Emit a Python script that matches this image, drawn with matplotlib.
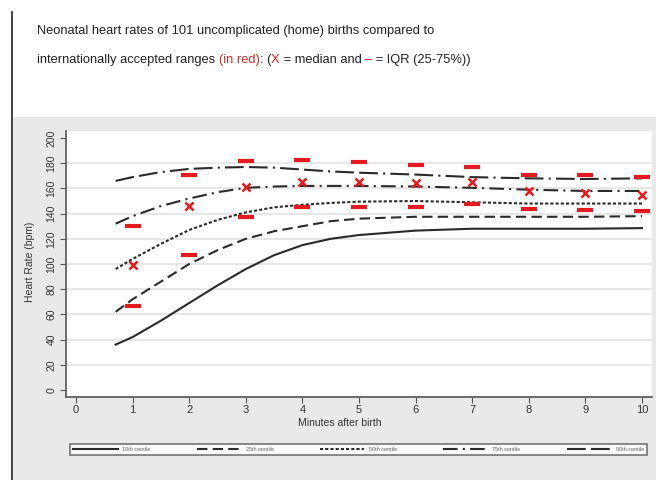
import matplotlib
matplotlib.use("Agg")
import matplotlib.pyplot as plt
from matplotlib.patches import Rectangle
from matplotlib.lines import Line2D
from matplotlib.text import Annotation

plt.rcParams['font.family'] = ['Liberation Sans', 'DejaVu Sans']

# ---- data ----
curve_x = [0.7, 1, 1.5, 2, 2.5, 3, 3.5, 4, 4.5, 5, 6, 7, 8, 9, 10]
p10 = [36, 42, 55, 69, 83, 96, 107, 115, 120, 123, 126.5, 128, 128, 128, 128.5]
p25 = [62, 72, 86, 100, 111, 120, 126, 130, 134, 136, 137.5, 137.5, 137.5, 137.5, 138]
p50 = [96, 104, 116, 127, 135, 141, 145, 147, 148.5, 149.5, 150, 149, 148, 148, 148]
p75 = [132, 138, 146, 152, 157, 160.5, 161.5, 162, 162, 162, 161.5, 160.5, 159, 158, 158]
p90 = [166, 169, 173, 175.5, 176.5, 177, 176.5, 175, 173.5, 172.5, 171, 169, 168, 167.5, 168]

minutes = [1, 2, 3, 4, 5, 6, 7, 8, 9, 10]
median = [99, 146, 161, 165, 165, 164, 165, 158, 156, 155]
iqr_low = [67, 107, 137, 145, 145, 145, 148, 144, 143, 142]
iqr_high = [130, 171, 182, 182.5, 181, 179, 177, 171, 170.5, 169]

labels = ["10th centile", "25th centile", "50th centile", "75th centile", "90th centile"]
series = [p10, p25, p50, p75, p90]
styles = ['-', (0, (5, 2.5)), (0, (1.5, 1)), (0, (7, 2.5, 1, 2.5)), (0, (9, 2.5, 9, 2.5, 1, 2.5))]

W, H = 656, 480
fig = plt.figure(figsize=(W / 100, H / 100), dpi=100)

# background gray panel and left rule
fig.patches.append(Rectangle((13 / W, 0), 1 - 13 / W, 1 - 117 / H, transform=fig.transFigure,
                             facecolor='#e9e9e9', edgecolor='none', zorder=-10))
fig.add_artist(Line2D([12 / W, 12 / W], [0, 1 - 12 / H], transform=fig.transFigure,
                      color='#333333', lw=1.3))

ax = fig.add_axes([66 / W, 1 - 397 / H, (652 - 66) / W, (397 - 131) / H])
ax.set_zorder(1)
ax.set_facecolor('white')
ax.set_xlim(-0.177, 10.177)
ax.set_ylim(-5.6, 205.6)
for s in ['top', 'right']:
    ax.spines[s].set_visible(False)
for s in ['left', 'bottom']:
    ax.spines[s].set_color('#555555')
    ax.spines[s].set_linewidth(1.2)

ax.set_yticks(range(0, 201, 20))
ax.set_xticks(range(0, 11))
ax.tick_params(axis='y', labelsize=7.5, length=4, color='#555555', labelcolor='#333333',
               labelrotation=90, pad=3)
for t in ax.get_yticklabels():
    t.set_va('center')
ax.tick_params(axis='x', labelsize=8, length=4, color='#555555', labelcolor='#333333', pad=2)
for g in range(20, 181, 20):
    ax.axhline(g, color='#e3e3e3', lw=1.2, zorder=0)

handles = []
for ys, lab, ls in zip(series, labels, styles):
    h, = ax.plot(curve_x, ys, color='#2a2a2a', lw=1.5, linestyle=ls, label=lab, zorder=2)
    handles.append(h)

red = '#e5191e'
ax.plot(minutes, iqr_low, linestyle='none', marker='_', markersize=11, mew=3, color=red, zorder=3)
ax.plot(minutes, iqr_high, linestyle='none', marker='_', markersize=11, mew=3, color=red, zorder=3)
ax.plot(minutes, median, linestyle='none', marker='x', markersize=5.5, mew=1.8, color=red, zorder=3)

fig.text(340 / W, 1 - 423 / H, "Minutes after birth", fontsize=7.5, color='#333333',
         ha='center', va='center', zorder=5)
fig.text(30 / W, 1 - 262 / H, "Heart Rate (bpm)", fontsize=7.5, color='#333333',
         ha='center', va='center', rotation=90)

leg = fig.legend(handles, labels, loc='center', ncol=5, mode='expand',
                 bbox_to_anchor=(70 / W, 1 - 462 / H, (647 - 70) / W, 25 / H),
                 fontsize=4, handlelength=8, frameon=True, fancybox=False,
                 borderaxespad=0, borderpad=0.6)
leg.get_frame().set_edgecolor('#555555')
leg.get_frame().set_linewidth(1.2)
for t in leg.get_texts():
    t.set_color('#666666')

# title
tfs = 9.3
fig.text(37 / W, 1 - 31 / H, "Neonatal heart rates of 101 uncomplicated (home) births compared to",
         fontsize=tfs, color='#222222', ha='left', va='center')
parts = [("internationally accepted ranges ", '#222222'), ("(in red)", '#c8302a'),
         (": (", '#222222'), ("X", '#e5191e'), (" = median and ", '#222222'),
         ("\u2013", '#e5191e'), (" = IQR (25-75%))", '#222222')]
prev = fig.text(37 / W, 1 - 60 / H, parts[0][0], fontsize=tfs, color=parts[0][1],
                ha='left', va='center')
for txt, col in parts[1:]:
    a = Annotation(txt, xy=(1, 0), xycoords=prev, va='bottom', ha='left',
                   fontsize=tfs, color=col)
    fig.add_artist(a)
    prev = a

fig.savefig("out.png", dpi=100)
